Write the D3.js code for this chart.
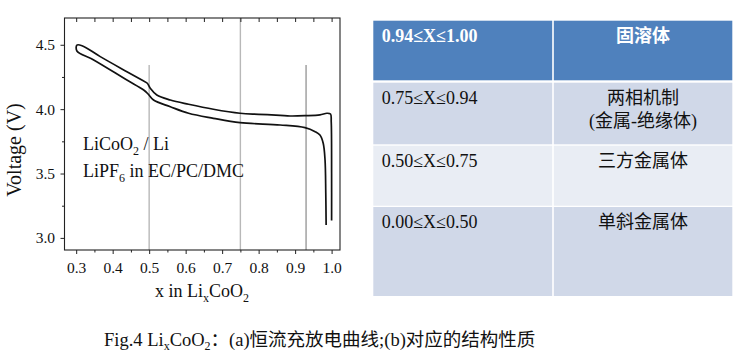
<!DOCTYPE html>
<html>
<head>
<meta charset="utf-8">
<script src="https://cdn.jsdelivr.net/npm/d3@7/dist/d3.min.js"></script>
<style>
  html, body { margin: 0; padding: 0; background: #fff; }
  svg { display: block; }
  text { font-family: "Liberation Serif", "Noto Sans CJK SC", serif; }
</style>
</head>
<body>
<svg id="chart" width="740" height="355"></svg>
<script>
// ---------- data ----------
const chargeX = [1.000, 1.000, 0.999, 0.997, 0.987, 0.968, 0.927, 0.886, 0.859, 0.800, 0.749, 0.676, 0.608, 0.558, 0.521, 0.503, 0.495, 0.480, 0.439, 0.366, 0.316, 0.302];
const chargeV = [3.135, 3.500, 3.900, 3.962, 3.968, 3.955, 3.949, 3.947, 3.952, 3.960, 3.968, 3.999, 4.038, 4.071, 4.110, 4.162, 4.201, 4.226, 4.291, 4.408, 4.493, 4.498];
const dischargeX = [0.302, 0.348, 0.439, 0.485, 0.498, 0.512, 0.558, 0.608, 0.676, 0.749, 0.859, 0.927, 0.955, 0.968, 0.977, 0.982, 0.984, 0.985];
const dischargeV = [4.452, 4.382, 4.226, 4.149, 4.115, 4.071, 4.019, 3.968, 3.929, 3.895, 3.877, 3.856, 3.825, 3.799, 3.735, 3.605, 3.350, 3.100];

const xMajorTicks = [0.3, 0.4, 0.5, 0.6, 0.7, 0.8, 0.9, 1.0];
const xMinorTicks = [0.35, 0.45, 0.55, 0.65, 0.75, 0.85, 0.95];
const yMajorTicks = [3.0, 3.5, 4.0, 4.5];
const yMinorTicks = [3.25, 3.75, 4.25];

const markerX = [0.5, 0.75, 0.93];
const markerTopV = [4.343, 4.708, 4.343];

const tableRanges = ["0.94≤X≤1.00", "0.75≤X≤0.94", "0.50≤X≤0.75", "0.00≤X≤0.50"];
const tablePhases = [["固溶体"], ["两相机制", "(金属-绝缘体)"], ["三方金属体"], ["单斜金属体"]];

// ---------- layout ----------
const svg = d3.select("#chart");
const plot = { left: 64.5, right: 340, top: 18, bottom: 250 };
const xs = d3.scaleLinear().domain([0.268, 1.023]).range([plot.left, plot.right]);
const ys = d3.scaleLinear().domain([2.906, 4.708]).range([plot.bottom, plot.top]);
const axisColor = "#222";

// vertical marker lines
svg.append("g").selectAll("line").data(markerX).join("line")
  .attr("x1", d => xs(d)).attr("x2", d => xs(d))
  .attr("y1", (d, i) => ys(markerTopV[i])).attr("y2", plot.bottom)
  .attr("stroke", (d, i) => i === 2 ? "#9a9a9a" : "#b8b8b8")
  .attr("stroke-width", 1.4);

// curve (charge then discharge, one closed-left loop)
const pts = chargeX.map((x, i) => [x, chargeV[i]])
  .concat(dischargeX.map((x, i) => [x, dischargeV[i]]));
const line = d3.line().x(d => xs(d[0])).y(d => ys(d[1])).curve(d3.curveCatmullRom.alpha(0.5));
svg.append("path").datum(pts)
  .attr("d", line).attr("fill", "none")
  .attr("stroke", "#111").attr("stroke-width", 1.7).attr("stroke-linejoin", "round");

// frame
svg.append("rect")
  .attr("x", plot.left).attr("y", plot.top)
  .attr("width", plot.right - plot.left).attr("height", plot.bottom - plot.top)
  .attr("fill", "none").attr("stroke", axisColor).attr("stroke-width", 1.1);

// bottom axis
const xAxis = svg.append("g").attr("transform", `translate(0,${plot.bottom})`)
  .call(d3.axisBottom(xs).tickValues(xMajorTicks).tickSize(4).tickPadding(7.5).tickFormat(d3.format(".1f")));
xAxis.select(".domain").remove();
xAxis.selectAll("line").attr("stroke", axisColor);
xAxis.selectAll("text").attr("font-size", 15.5).attr("fill", "#111")
  .style("font-family", "'Liberation Serif', serif");
const xAxisMinor = svg.append("g").attr("transform", `translate(0,${plot.bottom})`)
  .call(d3.axisBottom(xs).tickValues(xMinorTicks).tickSize(2.5).tickFormat(""));
xAxisMinor.select(".domain").remove();
xAxisMinor.selectAll("line").attr("stroke", axisColor);

// top axis (inward ticks)
const xTop = svg.append("g").attr("transform", `translate(0,${plot.top})`)
  .call(d3.axisTop(xs).tickValues(xMajorTicks.concat(xMinorTicks)).tickSize(-4).tickFormat(""));
xTop.select(".domain").remove();
xTop.selectAll("line").attr("stroke", axisColor);

// left axis
const yAxis = svg.append("g").attr("transform", `translate(${plot.left},0)`)
  .call(d3.axisLeft(ys).tickValues(yMajorTicks).tickSize(4).tickPadding(5.5).tickFormat(d3.format(".1f")));
yAxis.select(".domain").remove();
yAxis.selectAll("line").attr("stroke", axisColor);
yAxis.selectAll("text").attr("font-size", 15.5).attr("fill", "#111")
  .style("font-family", "'Liberation Serif', serif");
const yAxisMinor = svg.append("g").attr("transform", `translate(${plot.left},0)`)
  .call(d3.axisLeft(ys).tickValues(yMinorTicks).tickSize(2.5).tickFormat(""));
yAxisMinor.select(".domain").remove();
yAxisMinor.selectAll("line").attr("stroke", axisColor);

// axis titles
svg.append("text")
  .attr("transform", `translate(20.5,${(plot.top + plot.bottom) / 2 + 16}) rotate(-90)`)
  .attr("text-anchor", "middle").attr("font-size", 20).attr("fill", "#111")
  .text("Voltage (V)");

const xt = svg.append("text").attr("x", 155).attr("y", 297)
  .attr("font-size", 18).attr("fill", "#111");
xt.append("tspan").text("x in Li");
xt.append("tspan").attr("font-size", 12).attr("dy", 5).text("x");
xt.append("tspan").attr("dy", -5).text("CoO");
xt.append("tspan").attr("font-size", 12).attr("dy", 5).text("2");

// annotations
const a1 = svg.append("text").attr("x", 83).attr("y", 150).attr("font-size", 18).attr("fill", "#111");
a1.append("tspan").text("LiCoO");
a1.append("tspan").attr("font-size", 12).attr("dy", 5).text("2");
a1.append("tspan").attr("dy", -5).text(" / Li");
const a2 = svg.append("text").attr("x", 83).attr("y", 176.5).attr("font-size", 18).attr("fill", "#111");
a2.append("tspan").text("LiPF");
a2.append("tspan").attr("font-size", 12).attr("dy", 5).text("6");
a2.append("tspan").attr("dy", -5).text(" in EC/PC/DMC");

// ---------- table ----------
const rowTops = [20.7, 82.7, 145.7, 207];
const rowBottoms = [80.3, 144.3, 205.7, 296];
const colLeft = [373.3, 553.8];
const colRight = [552.2, 732.3];
const rowFills = ["#4f81bd", "#d0d8e8", "#e9edf4", "#d0d8e8"];

const tbl = svg.append("g");
const rows = tbl.selectAll("g.row").data(tableRanges).join("g").attr("class", "row");
rows.each(function(d, i) {
  const g = d3.select(this);
  for (let c = 0; c < 2; c++) {
    g.append("rect")
      .attr("x", colLeft[c]).attr("y", rowTops[i])
      .attr("width", colRight[c] - colLeft[c]).attr("height", rowBottoms[i] - rowTops[i])
      .attr("fill", rowFills[i]);
  }
  const header = i === 0;
  g.append("text")
    .attr("x", 381.7).attr("y", rowTops[i] + 21)
    .attr("font-size", 18).attr("font-weight", header ? "bold" : "normal")
    .attr("fill", header ? "#fff" : "#111")
    .text(d);
  tablePhases[i].forEach((t, k) => {
    g.append("text")
      .attr("x", 643).attr("y", rowTops[i] + 21 + k * 23)
      .attr("text-anchor", "middle")
      .attr("font-size", 18).attr("font-weight", header ? "bold" : "normal")
      .attr("fill", header ? "#fff" : "#111")
      .text(t);
  });
});

// ---------- caption ----------
const cap = svg.append("text").attr("x", 104).attr("y", 346).attr("font-size", 18.5).attr("fill", "#111");
cap.append("tspan").text("Fig.4 Li");
cap.append("tspan").attr("font-size", 12).attr("dy", 4).text("x");
cap.append("tspan").attr("dy", -4).text("CoO");
cap.append("tspan").attr("font-size", 12).attr("dy", 4).text("2");
cap.append("tspan").attr("dy", -4).text("：(a)恒流充放电曲线;(b)对应的结构性质");
</script>
</body>
</html>
